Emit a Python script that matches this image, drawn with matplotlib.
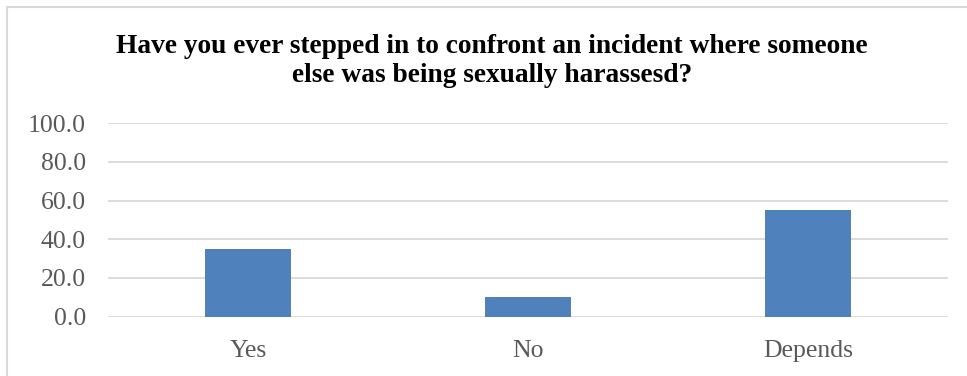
import matplotlib as mpl
import matplotlib.pyplot as plt
from matplotlib.patches import Rectangle

mpl.rcParams['font.family'] = ['Liberation Serif', 'DejaVu Serif']

categories = ["Yes", "No", "Depends"]
values = [35.0, 10.0, 55.0]
yticks = [0, 20, 40, 60, 80, 100]

fig = plt.figure(figsize=(9.67, 3.76), dpi=100)
ax = fig.add_axes([108/967, 1 - 316.7/376, 840/967, (316.7 - 123.2)/376])

x = range(len(categories))
ax.bar(x, values, width=0.31, color="#4f81bd", zorder=3)

ax.set_xlim(-0.5, len(categories) - 0.5)
ax.set_ylim(0, 100)
ax.set_yticks(yticks)
ax.set_yticklabels([f"{v:.1f}" for v in yticks])
ax.set_xticks(list(x))
ax.set_xticklabels(categories)
ax.grid(axis="y", color="#d9d9d9", lw=1.3, zorder=0)
for s in ax.spines.values():
    s.set_visible(False)
ax.tick_params(axis="both", length=0, labelsize=18.5, colors="#595959")
ax.tick_params(axis="y", pad=16)
ax.tick_params(axis="x", pad=17)

fig.text(492/967, 1 - 61/376, "Have you ever stepped in to confront an incident where someone\nelse was being sexually harassesd?",
         ha="center", va="center", fontsize=19.7, fontweight="bold", linespacing=1.2)

fig.patches.append(Rectangle((7/967, -0.05), 1.0, 1 - 7/376 + 0.05, transform=fig.transFigure,
                             fill=False, edgecolor="#d9d9d9", lw=1.5))

fig.savefig("out.png", dpi=100)
